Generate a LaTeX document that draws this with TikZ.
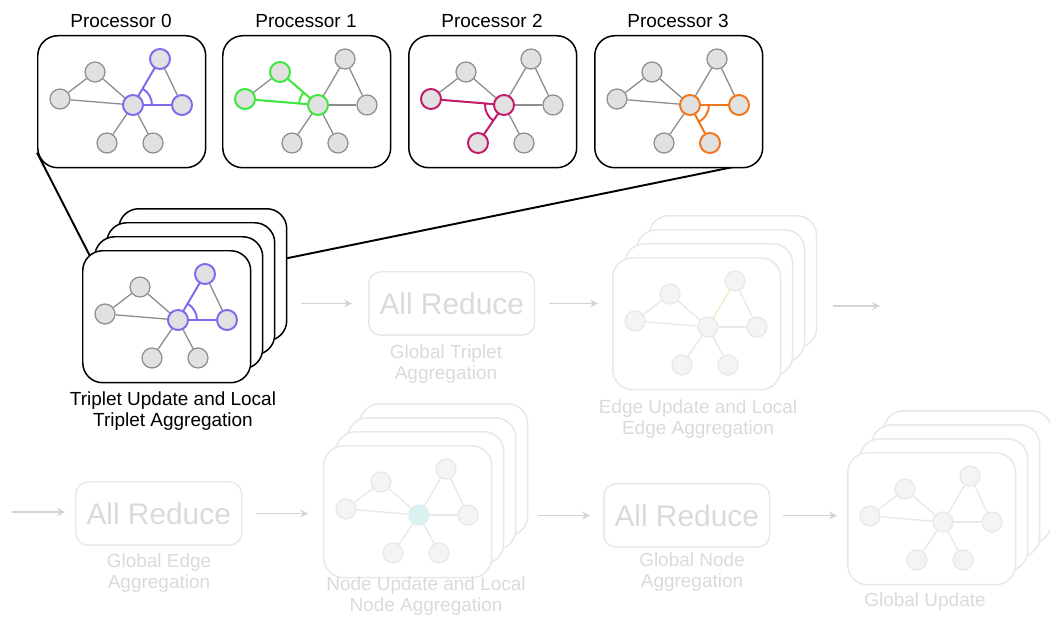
\documentclass[tikz,border=0pt]{standalone}
\usepackage{fontspec}
\setmainfont{Liberation Sans}
\usetikzlibrary{angles,arrows.meta,backgrounds}

\definecolor{violetline}{HTML}{7B6CF0}
\definecolor{greenline}{HTML}{3DE83D}
\definecolor{crimsonline}{HTML}{C4186A}
\definecolor{orangeline}{HTML}{F5761A}
\definecolor{vtxfill}{HTML}{E1E1E1}
\definecolor{vtxline}{HTML}{8E8E8E}
\definecolor{ghostgray}{HTML}{E8E8E8}
\definecolor{ghostfill}{HTML}{F4F4F4}
\definecolor{ghosttext}{HTML}{DADADA}
\definecolor{ghostarrow}{HTML}{D4D4D4}
\definecolor{edgetint}{HTML}{F2F0C8}
\definecolor{nodetint}{HTML}{DAF1F1}

\tikzset{
  card/.style={draw=black, fill=white, line width=0.85pt, rounded corners=0.4cm,
    minimum width=3.36cm, minimum height=2.64cm, inner sep=0pt, anchor=north west},
  ghostcard/.style={card, draw=ghostgray},
  vtx/.style={circle, minimum size=0.4cm, inner sep=0pt, fill=vtxfill, draw=vtxline, line width=0.7pt},
  ghostvtx/.style={vtx, fill=ghostfill, draw=ghostgray},
  hotvtx/.style={vtx, draw=#1, line width=1.1pt},
  link/.style={draw=vtxline, line width=0.75pt},
  ghostlink/.style={draw=ghostgray, line width=0.75pt},
  hotlink/.style={draw=#1, line width=1.1pt},
  hotarc/.style={draw=#1, line width=1.1pt, angle radius=0.38cm},
  boxlabel/.style={font=\fontsize{10.8}{12}\selectfont, anchor=north, inner sep=0pt, align=center},
  ghostlabel/.style={boxlabel, text=ghosttext},
  reducebox/.style={draw=ghostgray, line width=0.85pt, rounded corners=0.25cm,
    minimum width=3.32cm, minimum height=1.27cm, inner sep=0pt, anchor=north west,
    text=ghosttext, font=\fontsize{17}{17}\selectfont},
  flow/.style={draw=ghostarrow, line width=0.8pt, -{Stealth[length=4.5pt, width=4.5pt]}},
  zoomline/.style={draw=black, line width=1.1pt},
}

% small graph: #1 name prefix, #2 top left corner of its card, #3 '' or 'ghost'
\newcommand\netgraph[3]{%
  \begin{scope}[shift={#2}]
    \node[#3vtx] (#1a) at (58,37) {};
    \node[#3vtx] (#1b) at (23,64) {};
    \node[#3vtx] (#1c) at (96,70) {};
    \node[#3vtx] (#1d) at (123,24) {};
    \node[#3vtx] (#1e) at (145,70) {};
    \node[#3vtx] (#1f) at (70,108) {};
    \node[#3vtx] (#1g) at (116,108) {};
  \end{scope}
  \foreach \p/\q in {a/b,a/c,b/c,c/d,c/e,d/e,c/f,c/g}
    \draw[#3link] (#1\p) -- (#1\q);
}

% four cards stacked up and to the right: #1 name, #2 front corner, #3 style prefix
\newcommand\cardstack[3]{%
  \foreach \k in {3,2,1}
    \node[#3card, xshift=\k*0.24cm, yshift=\k*0.28cm] (#1\k) at #2 {};
  \node[#3card] (#1) at #2 {};
}

\begin{document}
\begin{tikzpicture}[x=0.02cm, y=-0.02cm]
\useasboundingbox (0,0) rectangle (1050,628);

% one card per processor
\foreach \i/\x in {0/37,1/222,2/408,3/594} {
  \node[card] (box\i) at (\x,35) {};
  \node[boxlabel] at (\x+84,14) {Processor \i};
  \netgraph{p\i}{(\x,35)}{}
}

% triplet step, the one that is expanded above
\cardstack{tripcard}{(82,250)}{}
\netgraph{tg}{(82,250)}{}
\node[boxlabel] at (173,391) {Triplet Update and Local\\Triplet Aggregation};

\begin{scope}[on background layer]
  \draw[zoomline] (box0.211) -- ([shift={(10,10)}]tripcard.north west);
  \draw[zoomline] ([shift={(-8,-6)}]box3.south east) -- ([shift={(-3,-16)}]tripcard3.east);
\end{scope}

% highlighted triplets
\foreach \g in {p0,tg} {
  \draw[hotlink=violetline] (\g c) -- (\g d) (\g c) -- (\g e);
  \pic[hotarc=violetline] {angle=\g e--\g c--\g d};
  \foreach \n in {c,d,e} \node[hotvtx=violetline] at (\g\n) {};
}
\draw[hotlink=greenline] (p1c) -- (p1a) (p1c) -- (p1b);
\pic[hotarc=greenline] {angle=p1a--p1c--p1b};
\foreach \n in {a,b,c} \node[hotvtx=greenline] at (p1\n) {};
\draw[hotlink=crimsonline] (p2c) -- (p2b) (p2c) -- (p2f);
\pic[hotarc=crimsonline] {angle=p2b--p2c--p2f};
\foreach \n in {b,c,f} \node[hotvtx=crimsonline] at (p2\n) {};
\draw[hotlink=orangeline] (p3c) -- (p3e) (p3c) -- (p3g);
\pic[hotarc=orangeline] {angle=p3g--p3c--p3e};
\foreach \n in {c,e,g} \node[hotvtx=orangeline] at (p3\n) {};

% the remaining steps, greyed out
\node[reducebox] (red1) at (368,271) {All Reduce};
\node[ghostlabel] at (446,344) {Global Triplet\\Aggregation};

\cardstack{edgecard}{(612,257)}{ghost}
\netgraph{eg}{(612,257)}{ghost}
\draw[ghostlink, draw=edgetint] (egc) -- (egd);
\node[ghostlabel] at (698,399) {Edge Update and Local\\Edge Aggregation};

\node[reducebox] (red2) at (75,481) {All Reduce};
\node[ghostlabel] at (159,553) {Global Edge\\Aggregation};

\cardstack{nodecard}{(323,445)}{ghost}
\netgraph{ng}{(323,445)}{ghost}
\node[ghostvtx, fill=nodetint, draw=nodetint] at (ngc) {};
\node[ghostlabel] at (426,576) {Node Update and Local\\Node Aggregation};

\node[reducebox] (red3) at (603,483) {All Reduce};
\node[ghostlabel] at (692,552) {Global Node\\Aggregation};

\cardstack{globcard}{(847,452)}{ghost}
\netgraph{gg}{(847,452)}{ghost}
\node[ghostlabel] at (925,592) {Global Update};

% flow between the steps
\coordinate (rowend) at (880,306);
\coordinate (rowstart) at (12,512);
\draw[flow, shorten <=0.28cm, shorten >=0.32cm] (tripcard3.east |- red1.west) -- (red1.west);
\draw[flow, shorten <=0.28cm, shorten >=0.28cm] (red1.east) -- (red1.east -| edgecard.west);
\draw[flow, shorten <=0.32cm] (edgecard3.east |- rowend) -- (rowend);
\draw[flow, shorten >=0.2cm] (rowstart) -- (rowstart -| red2.west);
\draw[flow, shorten <=0.28cm, shorten >=0.3cm] (red2.east) -- (red2.east -| nodecard.west);
\draw[flow, shorten <=0.2cm, shorten >=0.26cm] (nodecard3.east |- red3.west) -- (red3.west);
\draw[flow, shorten <=0.26cm, shorten >=0.2cm] (red3.east) -- (red3.east -| globcard.west);
\end{tikzpicture}
\end{document}
